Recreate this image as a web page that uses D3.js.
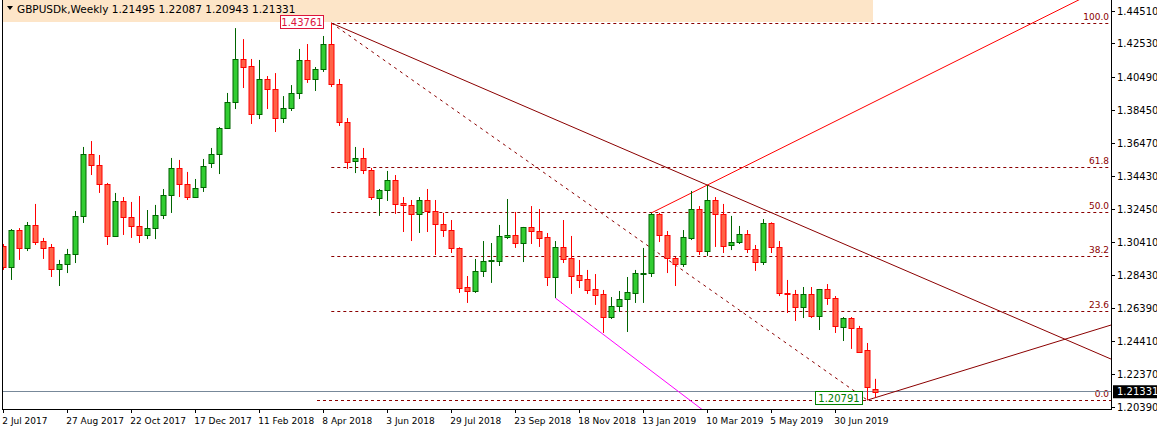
<!DOCTYPE html>
<html>
<head>
<meta charset="utf-8">
<script src="https://cdn.jsdelivr.net/npm/d3@7"></script>
<style>
  body { margin: 0; background: #fff; }
  svg { display: block; font-family: Tahoma, "DejaVu Sans", sans-serif; }
</style>
</head>
<body>
<svg id="chart" width="1157" height="430"></svg>
<script>
// weekly candles, first week starts 2 Jul 2017
var opens = [1.3018,1.2890,1.3115,1.3006,1.3146,1.3048,1.3012,1.2878,1.2908,1.2969,
  1.3201,1.3578,1.3511,1.3395,1.3079,1.3292,1.3194,1.3140,1.3085,1.3127,
  1.3207,1.3328,1.3493,1.3395,1.3316,1.3377,1.3523,1.3578,1.3736,1.3895,
  1.4157,1.4114,1.3822,1.4035,1.3974,1.3797,1.3858,1.3950,1.4151,1.4035,
  1.4096,1.4248,1.4004,1.3773,1.3536,1.3554,1.3481,1.3310,1.3359,1.3420,
  1.3280,1.3268,1.3213,1.3298,1.3231,1.3152,1.3115,1.3006,1.2768,1.2744,
  1.2866,1.2926,1.2926,1.3073,1.3085,1.3036,1.3134,1.3109,1.3073,1.2829,
  1.3012,1.2945,1.2841,1.2817,1.2756,1.2726,1.2585,1.2652,1.2695,1.2732,
  1.2847,1.2853,1.3213,1.3085,1.2945,1.2908,1.3067,1.3243,1.2987,1.3298,
  1.3213,1.3024,1.3042,1.3091,1.3000,1.2920,1.3158,1.3012,1.2732,1.2726,
  1.2646,1.2726,1.2592,1.2756,1.2701,1.2525,1.2579,1.2518,1.2384,1.21495];
var highs = [1.3030,1.3121,1.3127,1.3164,1.3274,1.3067,1.3030,1.2933,1.3000,1.3231,
  1.3621,1.3657,1.3572,1.3402,1.3341,1.3316,1.3286,1.3322,1.3237,1.3268,
  1.3365,1.3554,1.3542,1.3469,1.3426,1.3548,1.3615,1.3743,1.3950,1.4345,
  1.4278,1.4157,1.4151,1.4053,1.4071,1.3931,1.3998,1.4218,1.4248,1.4108,
  1.4297,1.43761,1.4035,1.3797,1.3621,1.3615,1.3493,1.3365,1.3475,1.3450,
  1.3316,1.3298,1.3316,1.3365,1.3298,1.3219,1.3176,1.3010,1.2835,1.2939,
  1.3048,1.3036,1.3146,1.3304,1.3225,1.3134,1.3261,1.3243,1.3097,1.3048,
  1.3176,1.3079,1.2933,1.2872,1.2847,1.2750,1.2707,1.2744,1.2829,1.2872,
  1.3006,1.3219,1.3219,1.3109,1.2951,1.3115,1.3353,1.3261,1.3389,1.3316,
  1.3274,1.3201,1.3140,1.3115,1.3024,1.3182,1.3162,1.3048,1.2811,1.2750,
  1.2768,1.2768,1.2756,1.2786,1.2713,1.2585,1.2585,1.2531,1.2427,1.22087];
var lows = [1.2872,1.2811,1.2933,1.2987,1.3024,1.2939,1.2829,1.2774,1.2853,1.2914,
  1.3158,1.3450,1.3341,1.3024,1.3073,1.3085,1.3067,1.3036,1.3060,1.3060,
  1.3182,1.3219,1.3316,1.3298,1.3310,1.3347,1.3493,1.3456,1.3736,1.3852,
  1.3980,1.3761,1.3791,1.3852,1.3712,1.3767,1.3840,1.3913,1.4011,1.3962,
  1.4078,1.3986,1.3749,1.3487,1.3462,1.3456,1.3298,1.3201,1.3292,1.3213,
  1.3103,1.3048,1.3097,1.3103,1.2963,1.3073,1.2975,1.2732,1.2671,1.2732,
  1.2829,1.2793,1.2896,1.3060,1.3006,1.2920,1.3030,1.3012,1.2774,1.2701,
  1.2914,1.2726,1.2762,1.2726,1.2659,1.2488,1.2573,1.2616,1.2494,1.2671,
  1.2671,1.2829,1.3042,1.2853,1.2774,1.2890,1.3054,1.2963,1.2957,1.3012,
  1.2975,1.2993,1.3030,1.2975,1.2866,1.2902,1.2975,1.2713,1.2610,1.2561,
  1.2579,1.2579,1.2506,1.2659,1.2488,1.2439,1.2391,1.2372,1.20791,1.20943];
var closes = [1.2890,1.3115,1.3006,1.3146,1.3042,1.3006,1.2878,1.2908,1.2969,1.3201,
  1.3578,1.3511,1.3395,1.3079,1.3292,1.3194,1.3140,1.3085,1.3127,1.3207,
  1.3328,1.3493,1.3395,1.3316,1.3371,1.3505,1.3578,1.3736,1.3895,1.4157,
  1.4108,1.3822,1.4035,1.3974,1.3797,1.3858,1.3950,1.4151,1.4035,1.4096,
  1.4248,1.4004,1.3773,1.3529,1.3554,1.3481,1.3316,1.3359,1.3420,1.3274,
  1.3268,1.3213,1.3298,1.3231,1.3152,1.3115,1.3006,1.2762,1.2744,1.2866,
  1.2926,1.2933,1.3079,1.3085,1.3036,1.3134,1.3109,1.3067,1.2829,1.3012,
  1.2939,1.2835,1.2811,1.2750,1.2719,1.2585,1.2652,1.2695,1.2738,1.2853,
  1.2853,1.3213,1.3085,1.2945,1.2908,1.3073,1.3243,1.2987,1.3298,1.3213,
  1.3018,1.3042,1.3091,1.3000,1.2920,1.3158,1.3012,1.2732,1.2726,1.2646,
  1.2726,1.2592,1.2756,1.2701,1.2531,1.2579,1.2518,1.2372,1.2159,1.21331];

var priceTicks = [1.44510,1.42530,1.40490,1.38450,1.36470,1.34430,1.32450,1.30410,1.28430,1.26390,1.24410,1.22370,1.20390];
var dateLabels = ["2 Jul 2017","27 Aug 2017","22 Oct 2017","17 Dec 2017","11 Feb 2018","8 Apr 2018","3 Jun 2018",
  "29 Jul 2018","23 Sep 2018","18 Nov 2018","13 Jan 2019","10 Mar 2019","5 May 2019","30 Jun 2019"];
var dateLabelIdx = [0,8,16,24,32,40,48,56,64,72,80,88,96,104];

var fibHigh = 1.43761, fibLow = 1.20791;
var fibLevels = [100.0, 61.8, 50.0, 38.2, 23.6, 0.0];
var lastPrice = 1.21331;

var svg = d3.select("#chart");
var plotR = 1111, plotB = 409;

var x = d3.scaleLinear().domain([0, 1]).range([3.3, 11.3]);
var y = d3.scaleLinear().domain([1.20390, 1.44510]).range([406.7, 10.7]);

svg.append("defs").append("clipPath").attr("id", "clip")
  .append("rect").attr("x", 2).attr("y", 0).attr("width", plotR - 2).attr("height", plotB);

// header band
svg.append("rect").attr("x", 2).attr("y", 0).attr("width", 871).attr("height", 22).attr("fill", "#fde5c8");
svg.append("path").attr("d", "M7,6 L13,6 L10,10 Z").attr("fill", "#000");
svg.append("text").attr("x", 17).attr("y", 13).attr("font-size", 10.5).attr("fill", "#000")
  .text("GBPUSDk,Weekly  1.21495 1.22087 1.20943 1.21331");

var g = svg.append("g").attr("clip-path", "url(#clip)");

// fibonacci levels
var fibY = function(l) { return fibLow + (fibHigh - fibLow) * l / 100; };
g.selectAll(".fib").data(fibLevels).enter().append("line")
  .attr("x1", function(d) { return d == 0 ? 317 : x(41); }).attr("x2", plotR)
  .attr("y1", function(d) { return Math.round(y(fibY(d))) + 0.5; })
  .attr("y2", function(d) { return Math.round(y(fibY(d))) + 0.5; })
  .attr("stroke", "#8b0000").attr("stroke-dasharray", "3,3");
g.selectAll(".fibl").data(fibLevels).enter().append("text")
  .attr("x", plotR - 2).attr("y", function(d) { return y(fibY(d)) - 3; })
  .attr("text-anchor", "end").attr("font-size", 9).attr("fill", "#8b0000")
  .text(function(d) { return d.toFixed(1); });

// current price line
g.append("line").attr("x1", 2).attr("x2", plotR)
  .attr("y1", Math.round(y(lastPrice)) + 0.5).attr("y2", Math.round(y(lastPrice)) + 0.5)
  .attr("stroke", "#778899");

// trendlines
var extend = function(p0, p1, xEnd) {
  var x0 = x(p0[0]), y0 = y(p0[1]), x1 = x(p1[0]), y1 = y(p1[1]);
  var s = (y1 - y0) / (x1 - x0);
  return [x0, y0, xEnd, y0 + s * (xEnd - x0)];
};
var drawLine = function(c, color, dash) {
  g.append("line").attr("x1", c[0]).attr("y1", c[1]).attr("x2", c[2]).attr("y2", c[3])
    .attr("stroke", color).attr("stroke-dasharray", dash || null);
};
drawLine([x(41), y(fibHigh), x(108), y(fibLow)], "#8b0000", "3,4");
drawLine(extend([41, fibHigh], [88, 1.3389], plotR), "#8b0000");
drawLine(extend([81, 1.3219], [88, 1.3389], 1095), "#ff0000");
drawLine(extend([108, fibLow], [138.5, 1.2537], plotR), "#8b0000");
drawLine(extend([69, 1.2701], [70, 1.2664], 710), "#ff00ff");

// candles
var idx = d3.range(opens.length);
var up = function(i) { return closes[i] >= opens[i]; };
g.selectAll(".wick").data(idx).enter().append("line")
  .attr("x1", function(i) { return Math.round(x(i)) + 0.5; })
  .attr("x2", function(i) { return Math.round(x(i)) + 0.5; })
  .attr("y1", function(i) { return y(highs[i]); })
  .attr("y2", function(i) { return y(lows[i]); })
  .attr("stroke", function(i) { return up(i) ? "#006400" : "#ff0000"; });
g.selectAll(".body").data(idx).enter().append("rect")
  .attr("x", function(i) { return Math.round(x(i)) - 2; })
  .attr("width", 5)
  .attr("y", function(i) { return Math.round(y(Math.max(opens[i], closes[i]))) + 0.5; })
  .attr("height", function(i) { return Math.max(1, Math.round(Math.abs(y(opens[i]) - y(closes[i])))); })
  .attr("fill", function(i) { return up(i) ? "#32cd32" : "#ff6347"; })
  .attr("stroke", function(i) { return up(i) ? "#006400" : "#ff0000"; });

// price labels of the fib anchors
var tagH = svg.append("g");
tagH.append("rect").attr("x", 280.5).attr("y", 15.5).attr("width", 43).attr("height", 13)
  .attr("fill", "#fff").attr("stroke", "#dc143c");
tagH.append("text").attr("x", 302).attr("y", 26).attr("text-anchor", "middle")
  .attr("font-size", 10).attr("fill", "#dc143c").text(fibHigh.toFixed(5));
var tagL = svg.append("g");
tagL.append("rect").attr("x", 815.5).attr("y", 391.5).attr("width", 47).attr("height", 13)
  .attr("fill", "#fff").attr("stroke", "#008000");
tagL.append("text").attr("x", 839).attr("y", 402).attr("text-anchor", "middle")
  .attr("font-size", 10).attr("fill", "#008000").text(fibLow.toFixed(5));

// frame
svg.append("line").attr("x1", 2.5).attr("x2", 2.5).attr("y1", 0).attr("y2", plotB).attr("stroke", "#000");
svg.append("line").attr("x1", plotR + 0.5).attr("x2", plotR + 0.5).attr("y1", 0).attr("y2", plotB + 1).attr("stroke", "#000");
svg.append("line").attr("x1", 2).attr("x2", plotR + 1).attr("y1", plotB + 0.5).attr("y2", plotB + 0.5).attr("stroke", "#000");

// price axis
var ya = svg.append("g");
ya.selectAll("line").data(priceTicks).enter().append("line")
  .attr("x1", plotR).attr("x2", plotR + 4)
  .attr("y1", function(d) { return Math.round(y(d)) + 0.5; })
  .attr("y2", function(d) { return Math.round(y(d)) + 0.5; }).attr("stroke", "#000");
ya.selectAll("text").data(priceTicks).enter().append("text")
  .attr("x", plotR + 6).attr("y", function(d) { return y(d) + 4; })
  .attr("font-size", 10).attr("fill", "#000").text(function(d) { return d.toFixed(5); });
svg.append("rect").attr("x", plotR + 2).attr("y", y(lastPrice) - 6).attr("width", 44).attr("height", 13).attr("fill", "#000");
svg.append("text").attr("x", plotR + 6).attr("y", y(lastPrice) + 4).attr("font-size", 10)
  .attr("fill", "#fff").text(lastPrice.toFixed(5));

// time axis
var xa = svg.append("g");
xa.selectAll("line").data(dateLabelIdx).enter().append("line")
  .attr("x1", function(i) { return Math.round(x(i)) + 0.5; })
  .attr("x2", function(i) { return Math.round(x(i)) + 0.5; })
  .attr("y1", plotB).attr("y2", plotB + 4).attr("stroke", "#000");
xa.selectAll("text").data(dateLabelIdx).enter().append("text")
  .attr("x", function(i) { return x(i) - 1; }).attr("y", 424)
  .attr("font-size", 9).attr("fill", "#000")
  .text(function(d, k) { return dateLabels[k]; });
</script>
</body>
</html>
